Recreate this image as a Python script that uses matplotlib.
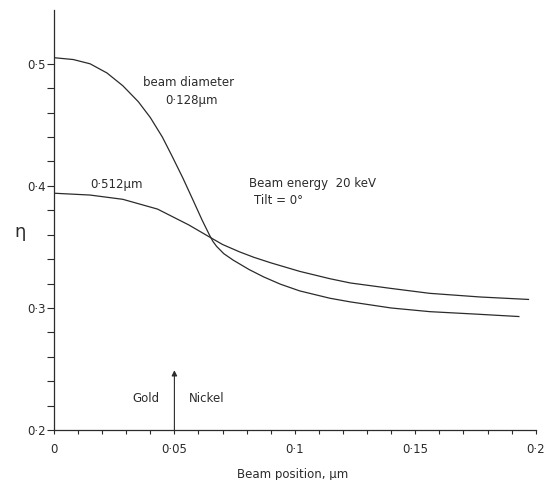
"""Backscatter coefficient across a gold/nickel boundary for two beam diameters."""

import matplotlib.pyplot as plt
from matplotlib.ticker import FixedLocator, FuncFormatter

# beam position (um) and eta for the 0.128 um beam
pos_128 = [0.0, 0.008, 0.015, 0.022, 0.0286, 0.035, 0.040, 0.045, 0.049, 0.0535,
           0.0577, 0.0615, 0.0647, 0.066, 0.0675, 0.0705, 0.0744, 0.081, 0.087,
           0.094, 0.102, 0.1145, 0.123, 0.140, 0.156, 0.175, 0.193]
eta_128 = [0.505, 0.5035, 0.500, 0.4925, 0.482, 0.469, 0.456, 0.440, 0.4245, 0.4065,
           0.3885, 0.372, 0.3592, 0.3545, 0.3505, 0.3445, 0.3392, 0.3315, 0.3255,
           0.3195, 0.314, 0.308, 0.305, 0.300, 0.297, 0.295, 0.293]

# beam position (um) and eta for the 0.512 um beam
pos_512 = [0.0, 0.015, 0.0286, 0.043, 0.056, 0.0647, 0.070, 0.077, 0.083, 0.090,
           0.102, 0.1145, 0.123, 0.140, 0.156, 0.177, 0.197]
eta_512 = [0.394, 0.3925, 0.389, 0.381, 0.368, 0.358, 0.352, 0.346, 0.3415, 0.337,
           0.330, 0.324, 0.3205, 0.316, 0.312, 0.309, 0.307]

boundary = 0.05
x_ticks = [0.0, 0.05, 0.1, 0.15, 0.2]
x_labels = ["0", "0·05", "0·1", "0·15", "0·2"]
x_minor = [i / 100 for i in range(21)]
y_ticks = [0.2, 0.3, 0.4, 0.5]
y_labels = ["0·2", "0·3", "0·4", "0·5"]
y_minor = [0.2 + i * 0.02 for i in range(16)]

ink = "#2b2b2b"
plt.rcParams["font.family"] = ["DejaVu Sans"]
plt.rcParams["font.size"] = 8.5

fig = plt.figure(figsize=(5.45, 4.8), dpi=100)
ax = fig.add_axes([0.099, 0.104, 0.884, 0.875])

ax.plot(pos_128, eta_128, color=ink, lw=0.9)
ax.plot(pos_512, eta_512, color=ink, lw=0.9)

# boundary arrow
ax.annotate("", xy=(boundary, 0.249), xytext=(boundary, 0.2),
            arrowprops=dict(arrowstyle="-|>", color=ink, lw=0.8,
                            mutation_scale=8, shrinkA=0, shrinkB=0))
ax.text(boundary - 0.006, 0.226, "Gold", ha="right", va="center", color=ink)
ax.text(boundary + 0.006, 0.226, "Nickel", ha="left", va="center", color=ink)

ax.text(0.037, 0.485, "beam diameter", ha="left", va="center", color=ink)
ax.text(0.046, 0.470, "0·128µm", ha="left", va="center", color=ink)
ax.text(0.015, 0.401, "0·512µm", ha="left", va="center", color=ink)
ax.text(0.081, 0.402, "Beam energy  20 keV", ha="left", va="center", color=ink)
ax.text(0.083, 0.388, "Tilt = 0°", ha="left", va="center", color=ink)

ax.set_xlim(0, 0.2)
ax.set_ylim(0.2, 0.544)
for side in ("top", "right"):
    ax.spines[side].set_visible(False)
for side in ("left", "bottom"):
    ax.spines[side].set_color(ink)
    ax.spines[side].set_linewidth(0.9)

ax.xaxis.set_major_locator(FixedLocator(x_ticks))
ax.xaxis.set_major_formatter(FuncFormatter(lambda v, i: x_labels[i]))
ax.xaxis.set_minor_locator(FixedLocator(x_minor))
ax.yaxis.set_major_locator(FixedLocator(y_ticks))
ax.yaxis.set_major_formatter(FuncFormatter(lambda v, i: y_labels[i]))
ax.yaxis.set_minor_locator(FixedLocator(y_minor))

ax.tick_params(axis="x", which="both", direction="out", length=3, width=0.8,
               color=ink, labelcolor=ink, pad=6)
ax.tick_params(axis="y", which="both", direction="out", length=5, width=0.8,
               color=ink, labelcolor=ink, pad=1)

ax.set_xlabel("Beam position, µm", color=ink)
ax.xaxis.set_label_coords(0.496, -0.09)
ax.set_ylabel("η", rotation=0, fontsize=13, color=ink)
ax.yaxis.set_label_coords(-0.07, 0.45)

fig.savefig("out.png", dpi=100, facecolor="white")
